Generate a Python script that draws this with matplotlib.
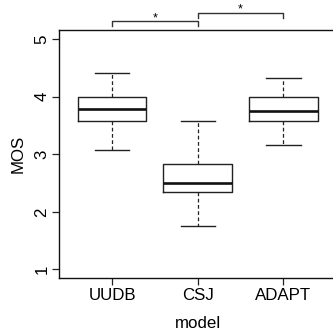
import matplotlib
matplotlib.use("Agg")
import matplotlib.pyplot as plt

categories = ["UUDB", "CSJ", "ADAPT"]
whislo = [3.08, 1.75, 3.17]
q1 = [3.58, 2.34, 3.58]
med = [3.79, 2.50, 3.75]
q3 = [4.00, 2.83, 4.00]
whishi = [4.42, 3.58, 4.33]
yticks = [1, 2, 3, 4, 5]
pairs = [(0, 1), (1, 2)]
sig_labels = ["*", "*"]

plt.rcParams['font.family'] = ['Liberation Sans', 'DejaVu Sans']
FS = 12.2

fig = plt.figure(figsize=(3.33, 3.31), dpi=100)
ax = fig.add_axes([59/333, (331-278)/331, (336.5-59)/333, (278-30)/331])

stats = []
for i, c in enumerate(categories):
    stats.append(dict(label=c, whislo=whislo[i], q1=q1[i], med=med[i],
                      q3=q3[i], whishi=whishi[i], fliers=[]))
pos = [1, 2, 3]
ax.bxp(stats, positions=pos, widths=0.8, showfliers=False,
       boxprops=dict(color='#222222', linewidth=1.0),
       medianprops=dict(color='#111111', linewidth=1.9),
       whiskerprops=dict(color='#222222', linewidth=0.9, linestyle=(0, (3, 2))),
       capprops=dict(color='#222222', linewidth=1.0),
       capwidths=0.4)

ax.set_xlim(0.38, 3.62)
ax.set_ylim(0.85, 5.16)
ax.set_yticks(yticks)
ax.set_yticklabels([str(v) for v in yticks], rotation=90, va='center', fontsize=FS)
ax.set_xticks(pos)
ax.set_xticklabels(categories, fontsize=FS)
ax.tick_params(axis='both', length=5, width=0.9, color='#222222')
ax.tick_params(axis='x', pad=2)
ax.tick_params(axis='y', pad=2)
ax.set_xlabel("model", fontsize=FS, labelpad=9.5)
ax.set_ylabel("MOS", fontsize=FS, labelpad=6.5)
for s in ax.spines.values():
    s.set_linewidth(1.0)
    s.set_color('#111111')

# significance brackets
tops = [5.31, 5.46]
bottoms = [5.23, 5.37]
star_y = [5.26, 5.42]
for k, (a, b) in enumerate(pairs):
    xa, xb = pos[a], pos[b]
    ax.plot([xa, xa, xb, xb], [bottoms[k], tops[k], tops[k], bottoms[k]],
            color='#333333', linewidth=1.0, clip_on=False)
    ax.text((xa + xb) / 2, star_y[k], sig_labels[k], ha='center', va='bottom',
            fontsize=9, clip_on=False)

fig.savefig("out.png", dpi=100)
